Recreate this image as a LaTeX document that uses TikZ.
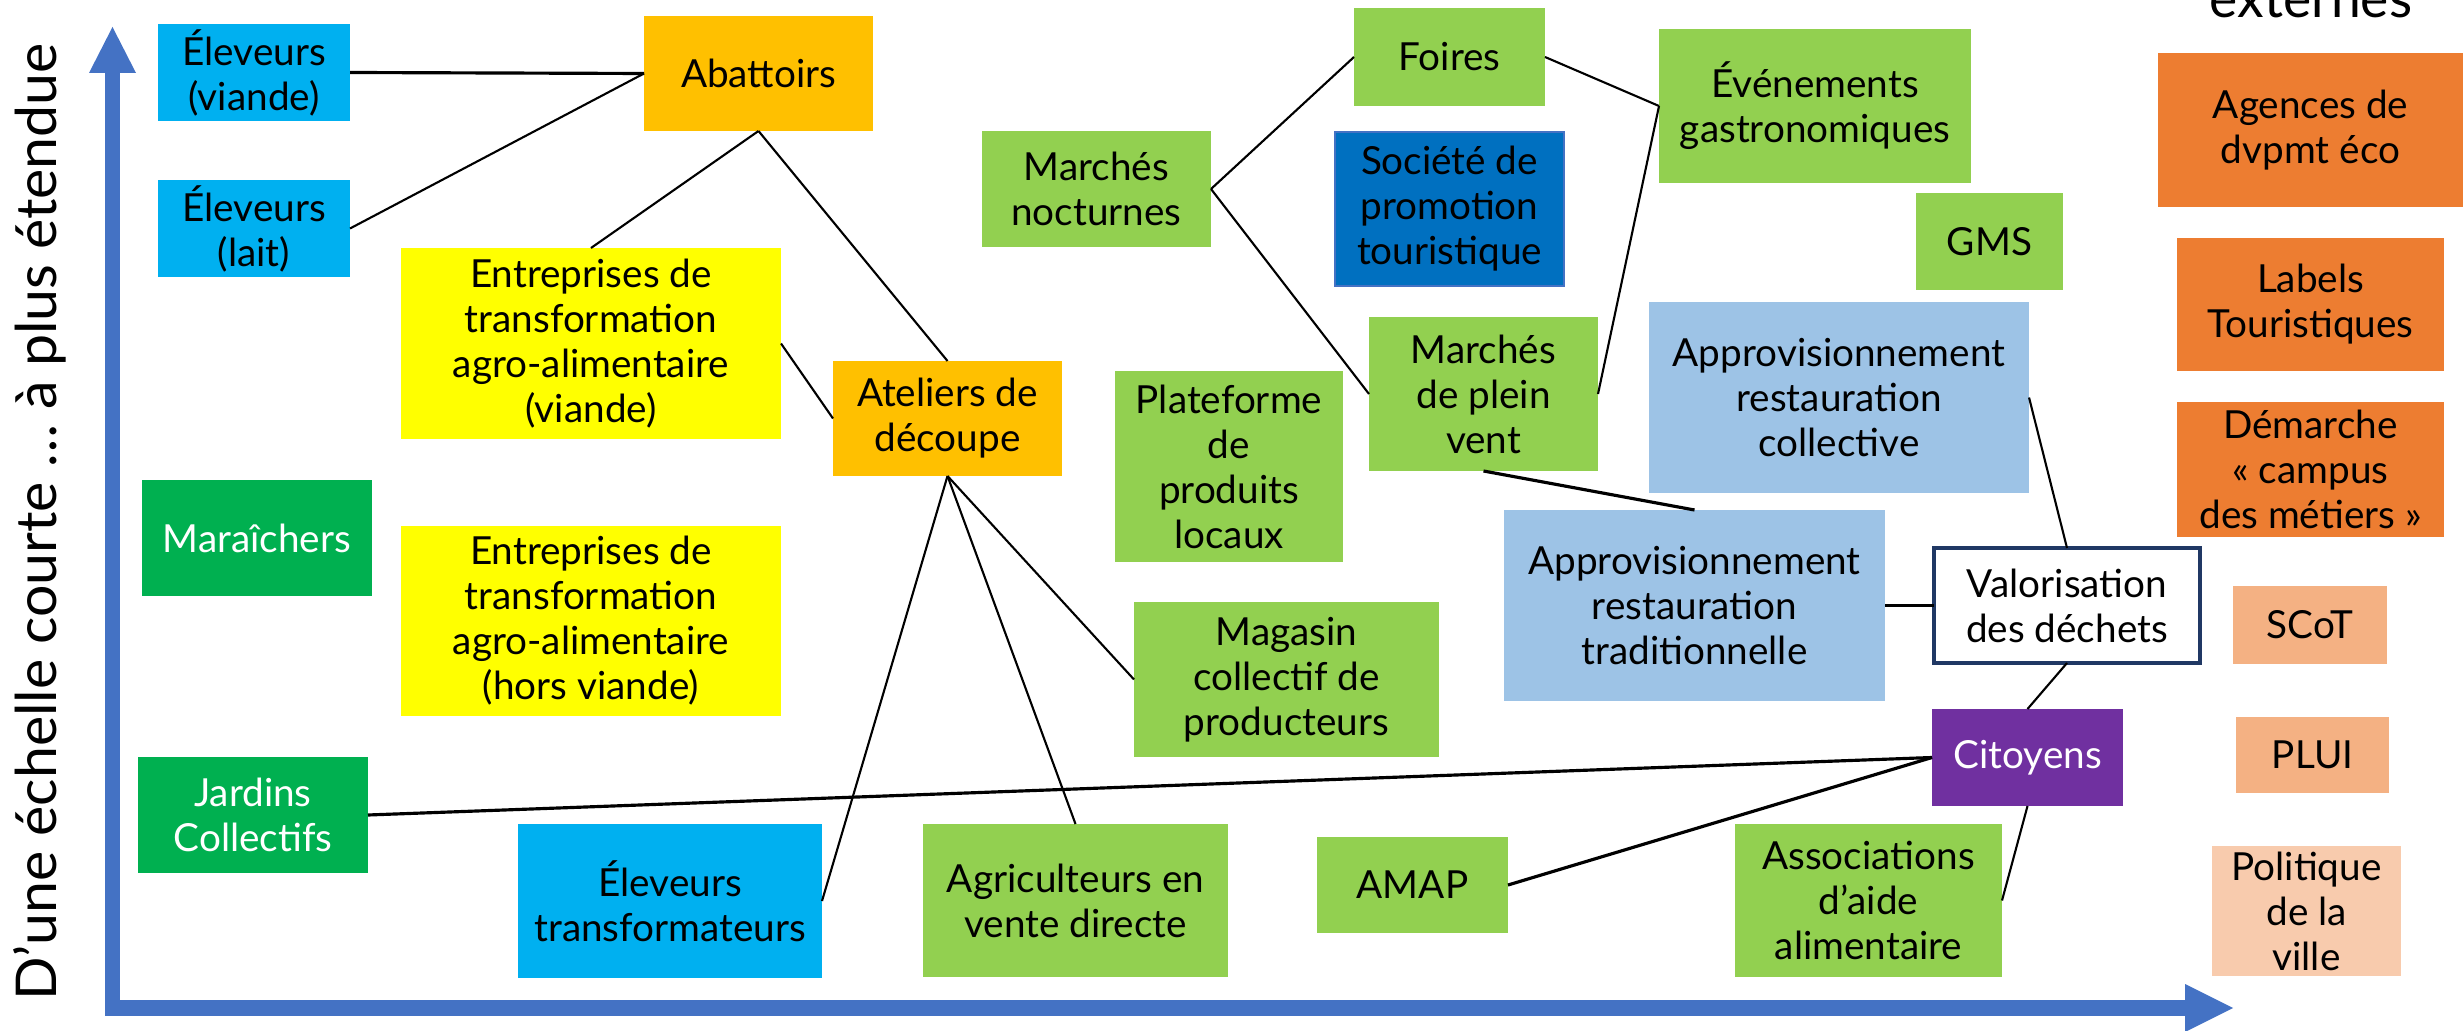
\documentclass[tikz,border=0pt]{standalone}
\usepackage{fontspec}
\setmainfont{Lato}
\definecolor{cyanb}{HTML}{00B0F0}
\definecolor{orangeb}{HTML}{FFC000}
\definecolor{yellowb}{HTML}{FFFF00}
\definecolor{lgreen}{HTML}{92D050}
\definecolor{dgreen}{HTML}{00B050}
\definecolor{sblue}{HTML}{0070C0}
\definecolor{sblueb}{HTML}{4472C4}
\definecolor{appro}{HTML}{9DC3E6}
\definecolor{purp}{HTML}{7030A0}
\definecolor{navy}{HTML}{203864}
\definecolor{oranged}{HTML}{ED7D31}
\definecolor{salmon}{HTML}{F4B183}
\definecolor{peach}{HTML}{F8CBAD}
\definecolor{axisblue}{HTML}{4472C4}
% box from (x1,y1) to (x2,y2), pixel coordinates
\newcommand\bx[6]{\node[#1, minimum width={(#4-#2)*0.01cm}, minimum height={(#5-#3)*0.01cm}] (#6) at ({(#2+#4)/2},{(#3+#5)/2})}
\begin{document}
\begin{tikzpicture}[x=0.01cm,y=-0.01cm,
  box/.style={fill=#1, inner sep=0pt, outer sep=0pt, align=center,
    font=\fontsize{11pt}{12.8pt}\selectfont, text=black},
  wbox/.style={box=#1, text=white},
  conn/.style={line width=0.6pt, black},
  connb/.style={line width=0.9pt, black},
  axisfill/.style={fill=axisblue}]
\useasboundingbox (0,0) rectangle (2464,1031);
\clip (0,0) rectangle (2464,1031);

% axes
\fill[axisfill] (105,1016) rectangle (120,73);
\fill[axisfill] (105,1000) rectangle (2185,1016);
\fill[axisfill] (89,73) -- (136,73) -- (112.5,27) -- cycle;
\fill[axisfill] (2185,984) -- (2185,1032) -- (2233,1008) -- cycle;
\node[rotate=90, anchor=base, inner sep=0pt] (ylab) at (57,522)
  {\resizebox{9.57cm}{0.43cm}{D’une échelle courte … à plus étendue}};
\node[anchor=base, inner sep=0pt] (ext) at (2311,18)
  {\resizebox{2.02cm}{!}{externes}};

% boxes
\bx{box=cyanb}{158}{24}{350}{121}{evv} {Éleveurs\\(viande)};
\bx{box=cyanb}{158}{180}{350}{277}{evl} {Éleveurs\\(lait)};
\bx{box=orangeb}{644}{16}{873}{131}{ab} {Abattoirs};
\bx{box=yellowb}{401}{248}{781}{439}{entv} {Entreprises de\\transformation\\agro-alimentaire\\(viande)};
\bx{box=orangeb}{833}{361}{1062}{476}{at} {Ateliers de\\découpe};
\bx{wbox=dgreen}{142}{480}{372}{596}{mar} {Maraîchers};
\bx{box=yellowb}{401}{526}{781}{716}{enth} {Entreprises de\\transformation\\agro-alimentaire\\(hors viande)};
\bx{wbox=dgreen}{138}{757}{368}{873}{jar} {Jardins\\Collectifs};
\bx{box=cyanb}{518}{824}{822}{978}{et} {Éleveurs\\transformateurs};
\bx{box=lgreen}{923}{824}{1228}{977}{ag} {Agriculteurs en\\vente directe};
\bx{box=lgreen}{982}{131}{1211}{247}{mn} {Marchés\\nocturnes};
\bx{box=lgreen}{1354}{8}{1545}{106}{fo} {Foires};
\bx{box=sblue, draw=sblueb, line width=0.6pt}{1335}{132}{1564}{286}{soc} {Société de\\promotion\\touristique};
\bx{box=lgreen}{1659}{29}{1971}{183}{evg} {Événements\\gastronomiques};
\bx{box=lgreen}{1916}{193}{2063}{290}{gms} {GMS};
\bx{box=lgreen}{1115}{371}{1343}{562}{pla} {Plateforme\\de\\produits\\locaux};
\bx{box=lgreen}{1369}{317}{1598}{471}{mpv} {Marchés\\de plein\\vent};
\bx{box=appro}{1649}{302}{2029}{493}{appc} {Approvisionnement\\restauration\\collective};
\bx{box=lgreen}{1134}{602}{1439}{757}{mag} {Magasin\\collectif de\\producteurs};
\bx{box=appro}{1504}{510}{1885}{701}{appt} {Approvisionnement\\restauration\\traditionnelle};
\bx{box=white, draw=navy, line width=1pt}{1934}{548}{2200}{663}{val} {Valorisation\\des déchets};
\bx{wbox=purp}{1932}{709}{2123}{806}{cit} {Citoyens};
\bx{box=lgreen}{1317}{837}{1508}{933}{amap} {AMAP};
\bx{box=lgreen}{1735}{824}{2002}{977}{asso} {Associations\\d’aide\\alimentaire};
\bx{box=oranged}{2158}{53}{2463}{207}{age} {Agences de\\dvpmt éco};
\bx{box=oranged}{2177}{238}{2444}{371}{lab} {Labels\\Touristiques};
\bx{box=oranged}{2177}{402}{2444}{537}{dem} {Démarche\\«~campus\\des métiers~»};
\bx{box=salmon}{2233}{586}{2387}{664}{scot} {SCoT};
\bx{box=salmon}{2236}{717}{2389}{793}{plui} {PLUI};
\bx{box=peach}{2212}{846}{2401}{976}{pol} {Politique\\de la\\ville};

% connectors
\draw[connb] (evv.east) -- (ab.west);
\draw[conn] (evl.east) -- (ab.west);
\draw[conn] (ab.south) -- (entv.north);
\draw[conn] (ab.south) -- (at.north);
\draw[conn] (entv.east) -- (at.west);
\draw[conn] (at.south) -- (et.east);
\draw[conn] (at.south) -- (ag.north);
\draw[conn] (at.south) -- (mag.west);
\draw[conn] (mn.east) -- (fo.west);
\draw[conn] (mn.east) -- (mpv.west);
\draw[conn] (fo.east) -- (evg.west);
\draw[conn] (evg.west) -- (mpv.east);
\draw[connb] (mpv.south) -- (appt.north);
\draw[conn] (appc.east) -- (val.north);
\draw[connb] (appt.east) -- (val.west);
\draw[conn] (val.south) -- (cit.north);
\draw[connb] (jar.east) -- (cit.west);
\draw[connb] (amap.east) -- (cit.west);
\draw[conn] (asso.east) -- (cit.south);
\end{tikzpicture}
\end{document}
